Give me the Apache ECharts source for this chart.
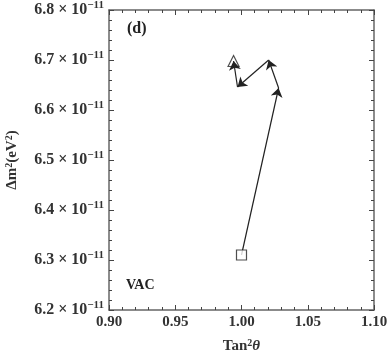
<!DOCTYPE html>
<html><head><meta charset="utf-8">
<script src="https://cdn.jsdelivr.net/npm/echarts@6/dist/echarts.min.js"></script>
<style>html,body{margin:0;padding:0;background:#fff}#c{width:392px;height:356px}</style>
</head><body><div id="c"></div>
<script>
// Trajectory points (tan^2 theta, delta m^2 in units of 1e-11 eV^2)
const tanSq = [1.000, 1.028, 1.0205, 0.997, 0.994];
const dmSq = [6.31, 6.644, 6.70, 6.646, 6.698];
const xTicks = [0.90, 0.95, 1.00, 1.05, 1.10];
const yTicks = [6.2, 6.3, 6.4, 6.5, 6.6, 6.7, 6.8];
const exponent = '−11';

const segs = [];
for (let i = 0; i < tanSq.length - 1; i++) {
  segs.push({coords: [[tanSq[i], dmSq[i]], [tanSq[i+1], dmSq[i+1]]]});
}
const font = 'Liberation Serif';
const col = '#333';
const frame = {lineStyle: {color: '#666', width: 1.5}};
const tick = {inside: true, length: 5, lineStyle: {color: '#444'}};
const minor = {show: true, splitNumber: 5, length: 3, lineStyle: {color: '#444'}};
const xBase = {type: 'value', min: xTicks[0], max: xTicks[xTicks.length-1], interval: 0.05,
  axisLine: frame, axisTick: tick, minorTick: minor, splitLine: {show: false}};
const yBase = {type: 'value', min: yTicks[0], max: yTicks[yTicks.length-1], interval: 0.1,
  axisLine: frame, axisTick: tick, minorTick: minor, splitLine: {show: false}};
const txt = (size, extra) => Object.assign({fontFamily: font, fontWeight: 'bold', fontSize: size, color: col}, extra || {});

const chart = echarts.init(document.getElementById('c'));
chart.setOption({
  animation: false,
  grid: {left: 109, right: 18, top: 10, bottom: 46, containLabel: false, outerBoundsMode: 'none'},
  xAxis: [
    Object.assign({}, xBase, {position: 'bottom',
      axisLabel: txt(15, {margin: 5, formatter: v => v.toFixed(2)}),
      name: 'Tan{s|2}{i|θ}', nameLocation: 'middle', nameGap: 28,
      nameTextStyle: txt(15, {rich: {
        s: txt(10, {padding: [0, 0, 7, 0]}),
        i: txt(15, {fontStyle: 'italic'})}})}),
    Object.assign({}, xBase, {position: 'top', axisLabel: {show: false}})
  ],
  yAxis: [
    Object.assign({}, yBase, {position: 'left',
      axisLabel: {margin: 5, color: col,
        formatter: v => '{m|' + v.toFixed(1) + '}{x| × 10}{s|' + exponent + '}',
        rich: {
          m: txt(16),
          x: txt(16),
          s: txt(11, {padding: [0, 0, 10, 0]})
        }},
      name: 'Δm{s|2}(eV{s|2})', nameLocation: 'middle', nameGap: 88, nameRotate: 90,
      nameTextStyle: txt(15, {rich: {s: txt(10, {padding: [0, 0, 7, 0]})}})}),
    Object.assign({}, yBase, {position: 'right', axisLabel: {show: false}})
  ],
  series: [
    {type: 'lines', coordinateSystem: 'cartesian2d', xAxisIndex: 0, yAxisIndex: 0,
      symbol: ['none', 'arrow'], symbolSize: 9,
      lineStyle: {color: '#222', width: 1.2, opacity: 1},
      data: segs, z: 2},
    {type: 'scatter', xAxisIndex: 0, yAxisIndex: 0, symbol: 'rect', symbolSize: 10,
      itemStyle: {color: '#fff', borderColor: '#222', borderWidth: 1.2},
      data: [[tanSq[0], dmSq[0]]], z: 3},
    {type: 'scatter', xAxisIndex: 0, yAxisIndex: 0, symbol: 'triangle', symbolSize: 11,
      itemStyle: {color: 'rgba(255,255,255,0)', borderColor: '#222', borderWidth: 1.2},
      data: [[tanSq[tanSq.length-1], dmSq[dmSq.length-1]]], z: 3}
  ],
  graphic: [
    {type: 'text', left: 127, top: 21, style: {text: '(d)', font: 'bold 16px "Liberation Serif"', fill: '#222'}},
    {type: 'text', left: 126, top: 278, style: {text: 'VAC', font: 'bold 14px "Liberation Serif"', fill: '#222'}}
  ]
});
</script></body></html>
